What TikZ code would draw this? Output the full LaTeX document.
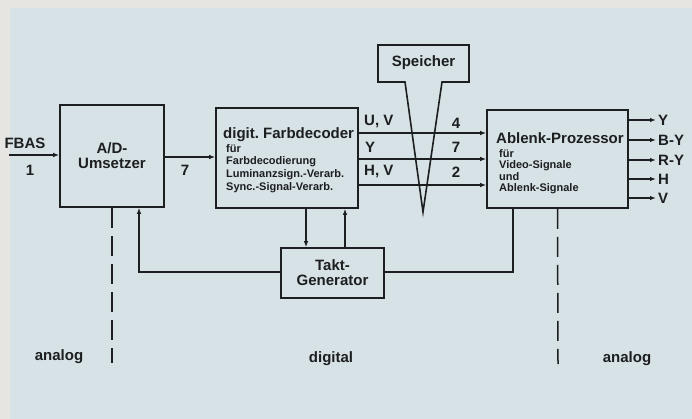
\documentclass[tikz,border=0pt]{standalone}
\usepackage{fontspec}
\setmainfont{Liberation Sans}
\usetikzlibrary{arrows.meta,positioning}
\definecolor{bgblue}{RGB}{215,226,230}
\definecolor{bgedge}{RGB}{230,229,225}
\definecolor{ink}{RGB}{28,30,32}
\newcommand{\bigfont}{\fontsize{15}{15}\selectfont\bfseries}
\newcommand{\smallfont}{\fontsize{11}{11.5}\selectfont\bfseries}
\frenchspacing

\begin{document}
\begin{tikzpicture}[x=1pt, y=-1pt,
    box/.style={rectangle, draw=ink, line width=1.6pt, inner sep=0pt,
                font=\bigfont, align=center, text=ink},
    arr/.style={-{Latex[length=6pt,width=4.5pt]}, ink, line width=1.3pt},
    wire/.style={ink, line width=1.3pt},
    sep/.style={ink, line width=1.5pt, dash pattern=on 20pt off 8pt},
    lbl/.style={font=\bigfont, inner sep=0pt, text=ink},
    sublbl/.style={font=\smallfont, inner sep=0pt, text=ink, align=left, anchor=north west}]
% background
\fill[bgedge] (0,0) rectangle (692,419);
\fill[bgblue] (10,8) rectangle (692,419);
\useasboundingbox (0,0) rectangle (692,419);

% blocks
\node[box, minimum width=104pt, minimum height=102pt] (ad) at (112,156) {A/D-\\Umsetzer};
\node[box, minimum width=142pt, minimum height=100pt] (dec) at (287,158) {};
\node[lbl, anchor=west] (dectitle) at (223,135) {digit. Farbdecoder};
\node[sublbl] (decsub) at (226,144) {für\\[1.2pt]Farbdecodierung\\[1.2pt]Luminanzsign.-Verarb.\\[1.2pt]Sync.-Signal-Verarb.};
\node[box, minimum width=141pt, minimum height=98pt] (abl) at (557.5,159) {};
\node[lbl, anchor=west] (abltitle) at (496,138) {Ablenk-Prozessor};
\node[sublbl] (ablsub) at (499,149) {für\\Video-Signale\\und\\Ablenk-Signale};
\node[box, minimum width=103pt, minimum height=50pt] (takt) at (332.5,273) {Takt-\\Generator};

% memory
\coordinate (memL) at (405,82);
\coordinate (memR) at (442,82);
\coordinate (memtip) at (423,212);
\draw[ink, line width=1.6pt, line join=miter] (memL) -- (378,82) -- (378,45) -- (469,45) -- (469,82) -- (memR) -- (memtip) -- cycle;
\node[lbl] (mem) at (423.5,63) {Speicher};

% input
\coordinate (in) at (9,155);
\draw[arr] (in) -- (in -| ad.west);
\node[lbl] (fbas) at (25,143) {FBAS};
\node[lbl] (n1) at (30,170) {1};

\draw[arr] ([yshift=-1pt]ad.east) -- ([yshift=-1pt]ad.east -| dec.west);
\node[lbl] (n7a) at (185,170) {7};

% decoder to processor
\draw[arr] ([yshift=25pt]dec.east) -- ([yshift=25pt]dec.east -| abl.west);
\draw[arr] ([yshift=-1pt]dec.east) -- ([yshift=-1pt]dec.east -| abl.west);
\draw[arr] ([yshift=-27pt]dec.east) -- ([yshift=-27pt]dec.east -| abl.west);
\node[lbl, anchor=west] (uv) at (364,122) {U, V};
\node[lbl, anchor=west] (ly) at (365,147) {Y};
\node[lbl, anchor=west] (hv) at (364,172) {H, V};
\node[lbl] (n4) at (456,123) {4};
\node[lbl] (n7b) at (456,147) {7};
\node[lbl] (n2) at (456,172) {2};

% outputs
\node[lbl, anchor=west] (oy) at (658,120) {Y};
\node[lbl, anchor=west] (oby) at (658,140) {B-Y};
\node[lbl, anchor=west] (ory) at (658,160) {R-Y};
\node[lbl, anchor=west] (oh) at (658,179) {H};
\node[lbl, anchor=west] (ov) at (658,198) {V};
\foreach \o in {oy,oby,ory,oh,ov}
  \draw[arr] (\o.west -| abl.east) -- ([xshift=-2pt]\o.west);

% clock
\draw[arr] ([xshift=19pt]dec.south) -- ([xshift=19pt]dec.south |- takt.north);
\draw[arr] ([xshift=58pt]dec.south |- takt.north) -- ([xshift=58pt]dec.south);
\draw[arr] ([yshift=1pt]takt.west) -| ([xshift=27pt]ad.south);
\draw[wire] ([yshift=1pt]takt.east) -| ([xshift=-44.5pt]abl.south);

% domains
\coordinate (adend) at (112,363);
\coordinate (ablend) at (558,364);
\draw[sep] (ad.south) -- (adend);
\draw[sep] (abl.south) -- (ablend);
\node[lbl] (ana1) at (59,357) {analog};
\node[lbl] (dig) at (331,359) {digital};
\node[lbl] (ana2) at (627,359) {analog};
\end{tikzpicture}
\end{document}
